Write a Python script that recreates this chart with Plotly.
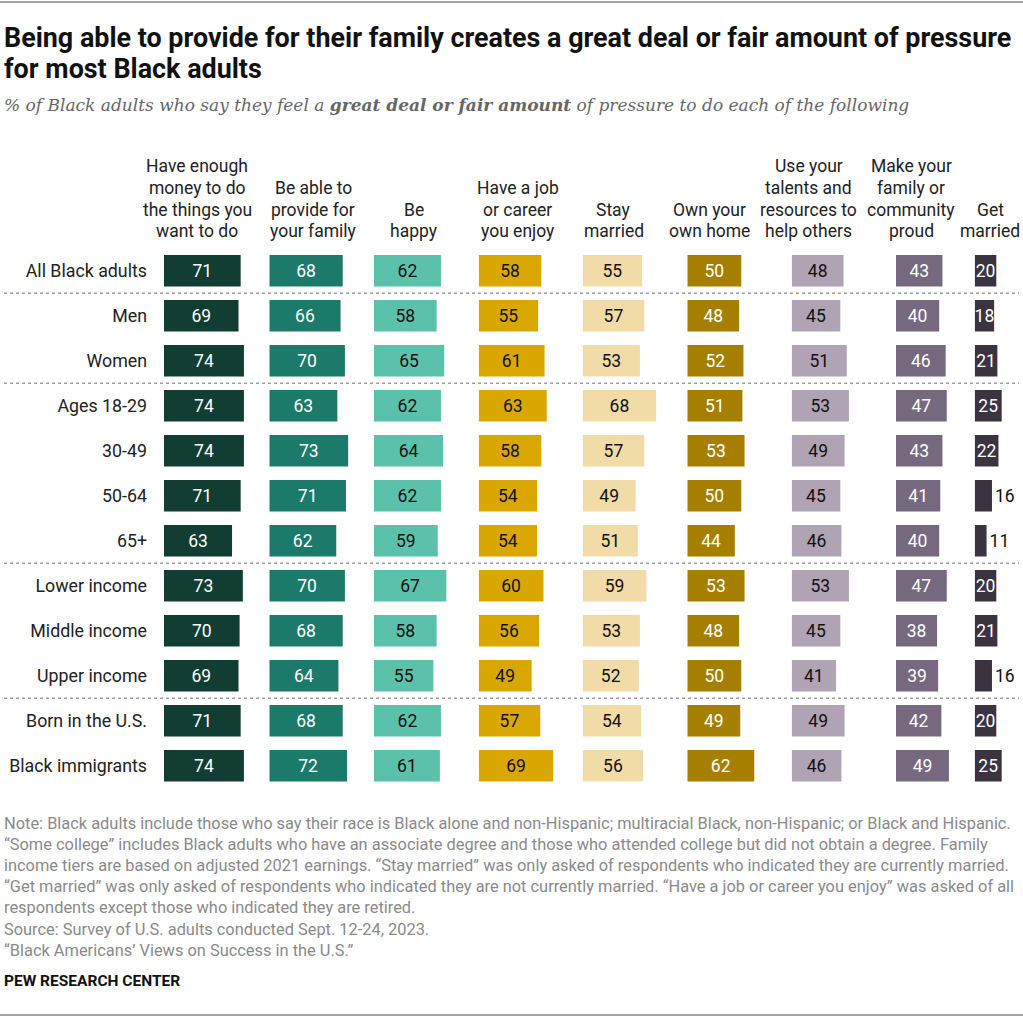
import plotly.graph_objects as go

W, H = 1023, 1017

rows = ["All Black adults", "Men", "Women", "Ages 18-29", "30-49", "50-64", "65+",
        "Lower income", "Middle income", "Upper income", "Born in the U.S.", "Black immigrants"]

headers = [
    ["Have enough", "money to do", "the things you", "want to do"],
    ["Be able to", "provide for", "your family"],
    ["Be", "happy"],
    ["Have a job", "or career", "you enjoy"],
    ["Stay", "married"],
    ["Own your", "own home"],
    ["Use your", "talents and", "resources to", "help others"],
    ["Make your", "family or", "community", "proud"],
    ["Get", "married"],
]

money = [71, 69, 74, 74, 74, 71, 63, 73, 70, 69, 71, 74]
provide = [68, 66, 70, 63, 73, 71, 62, 70, 68, 64, 68, 72]
happy = [62, 58, 65, 62, 64, 62, 59, 67, 58, 55, 62, 61]
job = [58, 55, 61, 63, 58, 54, 54, 60, 56, 49, 57, 69]
stay_married = [55, 57, 53, 68, 57, 49, 51, 59, 53, 52, 54, 56]
home = [50, 48, 52, 51, 53, 50, 44, 53, 48, 50, 49, 62]
talents = [48, 45, 51, 53, 49, 45, 46, 53, 45, 41, 49, 46]
proud = [43, 40, 46, 47, 43, 41, 40, 47, 38, 39, 42, 49]
get_married = [20, 18, 21, 25, 22, 16, 11, 20, 21, 16, 20, 25]

series = [money, provide, happy, job, stay_married, home, talents, proud, get_married]

colors = ["#113d33", "#1b7a69", "#5cc1ab", "#d9a700", "#f1dca8", "#a77f00", "#b0a3b4", "#76687e", "#3b3440"]
text_colors = ["white", "white", "#111", "#111", "#111", "white", "#111", "white", "white"]

# layout geometry (pixels)
col_start = [164, 269.3, 374, 478.7, 582.7, 687.3, 791.7, 896, 974.7]
col_end = [265, 370, 474, 578, 683, 787, 892, 970, 1021]
header_cx = [197, 313, 413.5, 517.5, 613.5, 709.5, 808.5, 911, 990]
PXU = 1.08  # pixels per percentage point
plot_top, plot_bot = 248.3, 788.3
FONT = "Roboto"
FS = 17.5

def px(x):
    return x / W

def py(y):
    return 1 - y / H

fig = go.Figure()
for i, vals in enumerate(series):
    ax = "x" if i == 0 else f"x{i+1}"
    positions = ["inside" if v >= 18 else "outside" for v in vals]
    fig.add_trace(go.Bar(
        x=vals, y=rows, orientation="h", xaxis=ax, yaxis="y",
        marker=dict(color=colors[i], line=dict(width=0)),
        width=0.70,
        text=[str(v) for v in vals], textposition=positions,
        insidetextanchor="middle", textangle=0, constraintext="none",
        insidetextfont=dict(color=text_colors[i], size=FS, family=FONT),
        outsidetextfont=dict(color="#111", size=FS, family=FONT),
        cliponaxis=False, hoverinfo="skip", showlegend=False,
    ))

layout = dict(
    width=W, height=H, margin=dict(l=0, r=0, t=0, b=0),
    paper_bgcolor="white", plot_bgcolor="white",
    uniformtext=dict(minsize=FS, mode="show"),
    font=dict(family=FONT, color="#222"),
    yaxis=dict(
        domain=[py(plot_bot), py(plot_top)],
        categoryorder="array", categoryarray=rows,
        range=[11.5, -0.5], showgrid=False, zeroline=False, showline=False,
        ticks="", tickfont=dict(size=17.8, family=FONT, color="#222"),
        ticklabelstandoff=16, anchor="x", fixedrange=True,
    ),
)
for i in range(9):
    key = "xaxis" if i == 0 else f"xaxis{i+1}"
    width_px = col_end[i] - col_start[i]
    layout[key] = dict(
        domain=[px(col_start[i]), px(col_end[i])],
        range=[0, width_px / PXU], visible=False, anchor="y", fixedrange=True,
    )
fig.update_layout(**layout)

ann = []
# column headers, one annotation per line, bottom-aligned
for i, lines in enumerate(headers):
    n = len(lines)
    for k, ln in enumerate(lines):
        yy = 231.5 - (n - 1 - k) * 21.8
        ann.append(dict(x=px(header_cx[i]), y=py(yy), xref="paper", yref="paper",
                        text=ln, showarrow=False, xanchor="center", yanchor="middle",
                        font=dict(size=FS, family=FONT, color="#222")))

# title
for t, yy in [("Being able to provide for their family creates a great deal or fair amount of pressure", 38),
              ("for most Black adults", 69)]:
    ann.append(dict(x=px(2), y=py(yy), xref="paper", yref="paper", text=f"<b>{t}</b>",
                    showarrow=False, xanchor="left", yanchor="middle",
                    font=dict(size=26.9, family=FONT, color="#111")))

# subtitle
ann.append(dict(x=px(2), y=py(105), xref="paper", yref="paper",
                text="<i>% of Black adults who say they feel a <b>great deal or fair amount</b> of pressure to do each of the following</i>",
                showarrow=False, xanchor="left", yanchor="middle",
                font=dict(size=17, family="DejaVu Serif", color="#666")))

notes = [
    "Note: Black adults include those who say their race is Black alone and non-Hispanic; multiracial Black, non-Hispanic; or Black and Hispanic.",
    "“Some college” includes Black adults who have an associate degree and those who attended college but did not obtain a degree. Family",
    "income tiers are based on adjusted 2021 earnings. “Stay married” was only asked of respondents who indicated they are currently married.",
    "“Get married” was only asked of respondents who indicated they are not currently married. “Have a job or career you enjoy” was asked of all",
    "respondents except those who indicated they are retired.",
    "Source: Survey of U.S. adults conducted Sept. 12-24, 2023.",
    "“Black Americans’ Views on Success in the U.S.”",
]
for k, n in enumerate(notes):
    ann.append(dict(x=px(2), y=py(823.5 + 21.1 * k), xref="paper", yref="paper", text=n,
                    showarrow=False, xanchor="left", yanchor="middle",
                    font=dict(size=16.4, family=FONT, color="#8a8a8a")))
ann.append(dict(x=px(2), y=py(981), xref="paper", yref="paper", text="<b>PEW RESEARCH CENTER</b>",
                showarrow=False, xanchor="left", yanchor="middle",
                font=dict(size=15.5, family=FONT, color="#111")))
fig.update_layout(annotations=ann)

shapes = []
for yy in [0.5, 2.5, 6.5, 9.5]:
    shapes.append(dict(type="line", xref="paper", yref="y", x0=px(4), x1=px(1019), y0=yy, y1=yy,
                       line=dict(color="#a0a0a0", width=1.6, dash="dot")))
for yy in [2, 1015]:
    shapes.append(dict(type="line", xref="paper", yref="paper", x0=0, x1=1, y0=py(yy), y1=py(yy),
                       line=dict(color="#888", width=1.5)))
fig.update_layout(shapes=shapes)

fig.write_html("out.html", config={"displayModeBar": False, "staticPlot": True},
               post_script="document.body.style.margin='0px';document.body.style.overflow='hidden';")
